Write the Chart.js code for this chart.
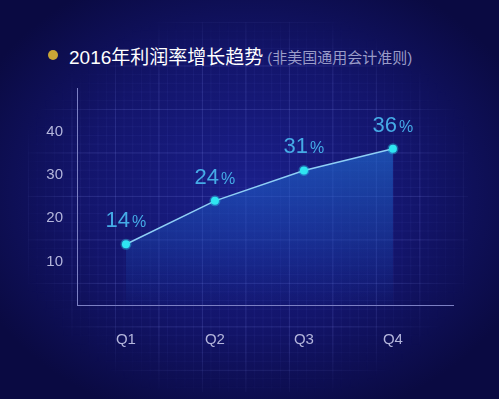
<!DOCTYPE html>
<html>
<head>
<meta charset="utf-8">
<script src="https://cdn.jsdelivr.net/npm/chart.js@4.4.1/dist/chart.umd.min.js"></script>
<style>
  html, body { margin: 0; padding: 0; }
  body {
    width: 499px; height: 399px; overflow: hidden; position: relative;
    background: radial-gradient(ellipse 60% 60% at 50% 48%, #1a1f8a 0%, #13156c 55%, #0a0a42 100%);
    font-family: "Liberation Sans", "Noto Sans CJK SC", sans-serif;
  }
  .grid {
    position: absolute; left: 28px; top: 22px; width: 440px; height: 370px;
    background:
      linear-gradient(rgba(150,160,255,0.12) 1px, transparent 1px) 0 0 / 43.5px 43.5px,
      linear-gradient(90deg, rgba(150,160,255,0.12) 1px, transparent 1px) 0 0 / 43.5px 43.5px,
      linear-gradient(rgba(130,140,255,0.06) 1px, transparent 1px) 0 0 / 8.7px 8.7px,
      linear-gradient(90deg, rgba(130,140,255,0.06) 1px, transparent 1px) 0 0 / 8.7px 8.7px;
    -webkit-mask-image: radial-gradient(ellipse 55% 55% at 50% 50%, #000 70%, transparent 100%);
            mask-image: radial-gradient(ellipse 55% 55% at 50% 50%, #000 70%, transparent 100%);
  }
  .title {
    position: absolute; left: 48px; top: 43px; height: 24px;
    display: flex; align-items: center; white-space: nowrap;
  }
  .dot { width: 10px; height: 10px; border-radius: 50%; background: #c9a536; margin-right: 11px; }
  .main { color: #ffffff; font-size: 19px; }
  .sub { color: #9a9cc8; font-size: 15px; margin-left: 4px; margin-top: 2px; }
  canvas { position: absolute; left: 0; top: 0; }
</style>
</head>
<body>
<div class="grid"></div>
<div class="title"><span class="dot"></span><span class="main">2016年利润率增长趋势</span><span class="sub">(非美国通用会计准则)</span></div>
<canvas id="profitChart" width="499" height="399"></canvas>
<script>
const quarters = ['Q1', 'Q2', 'Q3', 'Q4'];
const profitRate = [14, 24, 31, 36];
const yTicks = [10, 20, 30, 40];

const fontFamily = '"Liberation Sans", "Noto Sans CJK SC", sans-serif';

// draws the "14%" style labels above each point
const percentLabels = {
    id: 'percentLabels',
    afterDatasetsDraw(chart) {
        const ctx = chart.ctx;
        const meta = chart.getDatasetMeta(0);
        ctx.save();
        ctx.fillStyle = '#45abe6';
        ctx.textBaseline = 'alphabetic';
        meta.data.forEach((pt, i) => {
            const num = String(profitRate[i]);
            ctx.font = '22px ' + fontFamily;
            const wNum = ctx.measureText(num).width;
            ctx.font = '16px ' + fontFamily;
            const wPct = ctx.measureText('%').width;
            const start = pt.x - (wNum + 2 + wPct) / 2;
            const base = pt.y - 17;
            ctx.textAlign = 'left';
            ctx.font = '22px ' + fontFamily;
            ctx.fillText(num, start, base);
            ctx.font = '16px ' + fontFamily;
            ctx.fillText('%', start + wNum + 2, base);
        });
        ctx.restore();
    }
};

const canvas = document.getElementById('profitChart');

new Chart(canvas, {
    type: 'line',
    data: {
        datasets: [{
            data: profitRate.map((v, i) => ({ x: i + 1, y: v })),
            borderColor: '#8fcff5',
            borderWidth: 1.5,
            tension: 0,
            pointRadius: 4,
            pointBackgroundColor: '#2fe6f2',
            pointBorderColor: 'rgba(47,230,242,0.35)',
            pointBorderWidth: 3,
            fill: 'origin',
            backgroundColor: (context) => {
                const area = context.chart.chartArea;
                if (!area) return 'rgba(30,100,200,0.4)';
                const g = context.chart.ctx.createLinearGradient(0, area.top + 50, 0, area.bottom);
                g.addColorStop(0, 'rgba(35,115,215,0.65)');
                g.addColorStop(0.6, 'rgba(30,90,195,0.35)');
                g.addColorStop(1, 'rgba(25,70,180,0.05)');
                return g;
            }
        }]
    },
    options: {
        responsive: false,
        animation: false,
        layout: {
            padding: { left: 30, right: 46, top: 88, bottom: 49 }
        },
        plugins: {
            legend: { display: false },
            tooltip: { enabled: false }
        },
        scales: {
            x: {
                type: 'linear',
                min: 0.45,
                max: 4.675,
                afterFit: (scale) => { scale.height = 45; },
                grid: { display: false },
                border: { display: true, color: '#7c80c4', width: 1 },
                ticks: {
                    stepSize: 1,
                    includeBounds: false,
                    padding: 18,
                    color: '#b4b6dc',
                    font: { size: 15, family: fontFamily },
                    callback: (v) => Number.isInteger(v) ? (quarters[v - 1] || '') : ''
                }
            },
            y: {
                min: 0,
                max: 50,
                afterFit: (scale) => { scale.width = 47; },
                grid: { display: false },
                border: { display: true, color: '#7c80c4', width: 1 },
                ticks: {
                    stepSize: 10,
                    padding: 6,
                    color: '#b4b6dc',
                    font: { size: 15, family: fontFamily },
                    callback: (v) => yTicks.includes(v) ? String(v) : ''
                }
            }
        }
    },
    plugins: [percentLabels]
});
</script>
</body>
</html>
